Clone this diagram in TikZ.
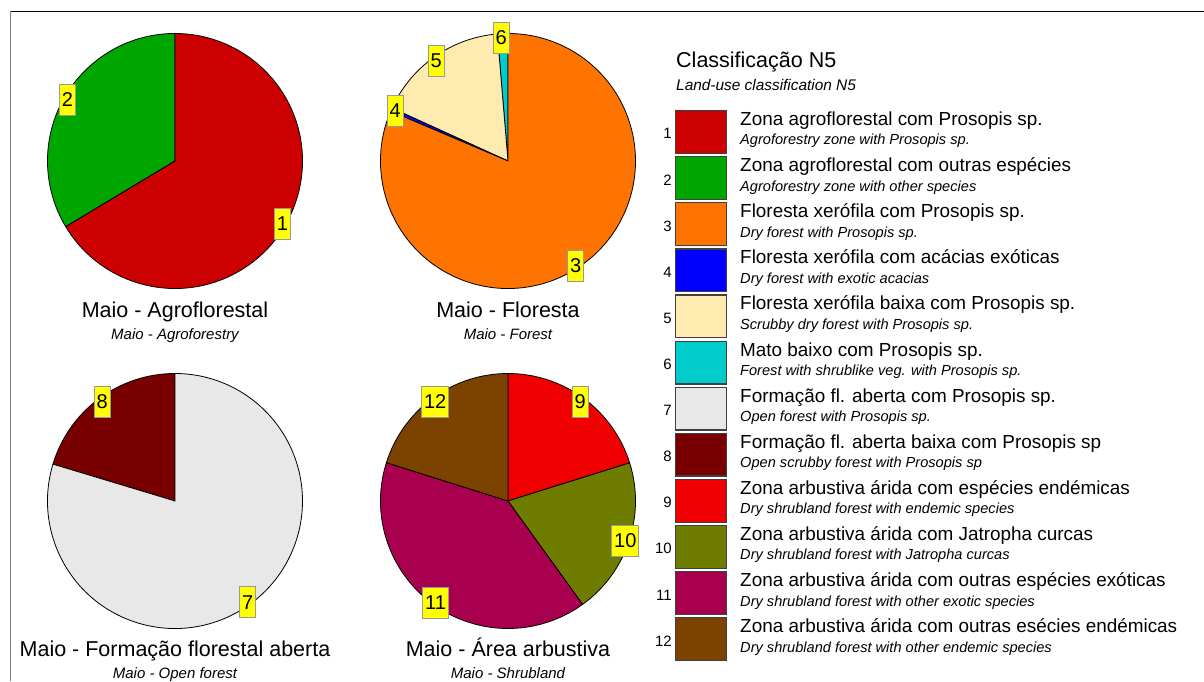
\documentclass[tikz,border=0pt]{standalone}
\usepackage{fontspec}
\setmainfont{Liberation Sans}
\definecolor{c1}{RGB}{204,0,0}
\definecolor{c2}{RGB}{0,166,0}
\definecolor{c3}{RGB}{255,115,0}
\definecolor{c4}{RGB}{0,0,255}
\definecolor{c5}{RGB}{255,235,175}
\definecolor{c6}{RGB}{0,204,204}
\definecolor{c7}{RGB}{232,232,232}
\definecolor{c8}{RGB}{120,0,0}
\definecolor{c9}{RGB}{240,0,0}
\definecolor{c10}{RGB}{110,125,0}
\definecolor{c11}{RGB}{168,0,78}
\definecolor{c12}{RGB}{124,66,0}
\definecolor{labyellow}{RGB}{255,255,0}
\newcommand\myslice[4]{%
  \filldraw[fill=#4, draw=black, line width=0.8pt] (#1) -- ++(#2:127.5pt)
    arc[start angle=#2, end angle=#3, radius=127.5pt] -- cycle;}
\tikzset{
  lab/.style={fill=labyellow, draw=black!40, line width=0.8pt,
    font=\fontsize{20}{20}\selectfont, inner xsep=2.4pt, inner ysep=0pt, minimum height=31pt},
  ttl/.style={font=\fontsize{21.5}{24}\selectfont, inner sep=0pt},
  subt/.style={font=\fontsize{15}{17}\selectfont\itshape, inner sep=0pt},
  legsub/.style={font=\fontsize{15.4}{17}\selectfont\itshape, inner sep=0pt},
  mainf/.style={font=\fontsize{18.9}{21}\selectfont, inner sep=0pt},
  engf/.style={font=\fontsize{14.6}{16}\selectfont\itshape, inner sep=0pt},
  numf/.style={font=\fontsize{15}{17}\selectfont, inner sep=0pt},
  legbox/.style={draw=black!75, line width=1.3pt, minimum width=51pt, minimum height=42.7pt, inner sep=0pt}
}
\begin{document}
\begin{tikzpicture}[x=1pt,y=1pt]
\useasboundingbox (0,0) rectangle (1204,681);
% frame
\draw[black, line width=1.5pt] (10,669.5) -- (1204,669.5);
\draw[black!50, line width=1pt] (10,669.5) -- (10,0);
% pie centres
\coordinate (p1) at (175,520);
\coordinate (p2) at (508,520);
\coordinate (p3) at (175,180);
\coordinate (p4) at (508,180);
% pie 1
\myslice{p1}{90}{211}{c2}
\myslice{p1}{211}{450}{c1}
% pie 2
\myslice{p2}{90}{94.8}{c6}
\myslice{p2}{94.8}{155.5}{c5}
\myslice{p2}{155.5}{157}{c4}
\myslice{p2}{157}{450}{c3}
% pie 3
\myslice{p3}{90}{163.2}{c8}
\myslice{p3}{163.2}{450}{c7}
% pie 4
\myslice{p4}{17.4}{90}{c9}
\myslice{p4}{-54.2}{17.4}{c10}
\myslice{p4}{162.5}{305.8}{c11}
\myslice{p4}{90}{162.5}{c12}
% labels
\node[lab] (l1) at (282.5,457.5) {1};
\node[lab] (l2) at (67.5,581) {2};
\node[lab] (l3) at (575.8,415.5) {3};
\node[lab] (l4) at (395.3,570.2) {4};
\node[lab] (l5) at (436.2,619.8) {5};
\node[lab] (l6) at (501.2,643) {6};
\node[lab] (l7) at (247.8,78.8) {7};
\node[lab] (l8) at (102.2,279.3) {8};
\node[lab] (l9) at (580.2,279.3) {9};
\node[lab] (l10) at (625.3,140.5) {10};
\node[lab] (l11) at (435.5,78.5) {11};
\node[lab] (l12) at (435.2,279.3) {12};
% pie titles
\node[ttl, anchor=base] (t1) at (175,363.5) {Maio - Agroflorestal};
\node[subt, anchor=base] (s1) at (175,341.5) {Maio - Agroforestry};
\node[ttl, anchor=base] (t2) at (508,363.5) {Maio - Floresta};
\node[subt, anchor=base] (s2) at (508,341.5) {Maio - Forest};
\node[ttl, anchor=base] (t3) at (175,24.3) {Maio - Formação florestal aberta};
\node[subt, anchor=base] (s3) at (175,2.3) {Maio - Open forest};
\node[ttl, anchor=base] (t4) at (508,24.3) {Maio - Área arbustiva};
\node[subt, anchor=base] (s4) at (508,2.3) {Maio - Shrubland};
% legend
\node[ttl, anchor=base west] (lt) at (676,613.5) {Classificação N5};
\node[legsub, anchor=base west] (ls) at (676,590) {Land-use classification N5};
\foreach \i/\a/\b in {
  1/{Zona agroflorestal com Prosopis sp.}/{Agroforestry zone with Prosopis sp.},
  2/{Zona agroflorestal com outras espécies}/{Agroforestry zone with other species},
  3/{Floresta xerófila com Prosopis sp.}/{Dry forest with Prosopis sp.},
  4/{Floresta xerófila com acácias exóticas}/{Dry forest with exotic acacias},
  5/{Floresta xerófila baixa com Prosopis sp.}/{Scrubby dry forest with Prosopis sp.},
  6/{Mato baixo com Prosopis sp.}/{Forest with shrublike veg. with Prosopis sp.},
  7/{Formação fl. aberta com Prosopis sp.}/{Open forest with Prosopis sp.},
  8/{Formação fl. aberta baixa com Prosopis sp}/{Open scrubby forest with Prosopis sp},
  9/{Zona arbustiva árida com espécies endémicas}/{Dry shrubland forest with endemic species},
  10/{Zona arbustiva árida com Jatropha curcas}/{Dry shrubland forest with Jatropha curcas},
  11/{Zona arbustiva árida com outras espécies exóticas}/{Dry shrubland forest with other exotic species},
  12/{Zona arbustiva árida com outras esécies endémicas}/{Dry shrubland forest with other endemic species}}{
  \pgfmathsetmacro\t{571 - 46.1*(\i-1)}
  \node[legbox, fill=c\i, anchor=north west] (box\i) at (675,\t) {};
  \node[numf, anchor=base east] (n\i) at (672,\t-29) {\i};
  \node[mainf, anchor=base west] (m\i) at (740,\t-15.5) {\a};
  \node[engf, anchor=base west] (e\i) at (740,\t-35) {\b};
}
\end{tikzpicture}
\end{document}
